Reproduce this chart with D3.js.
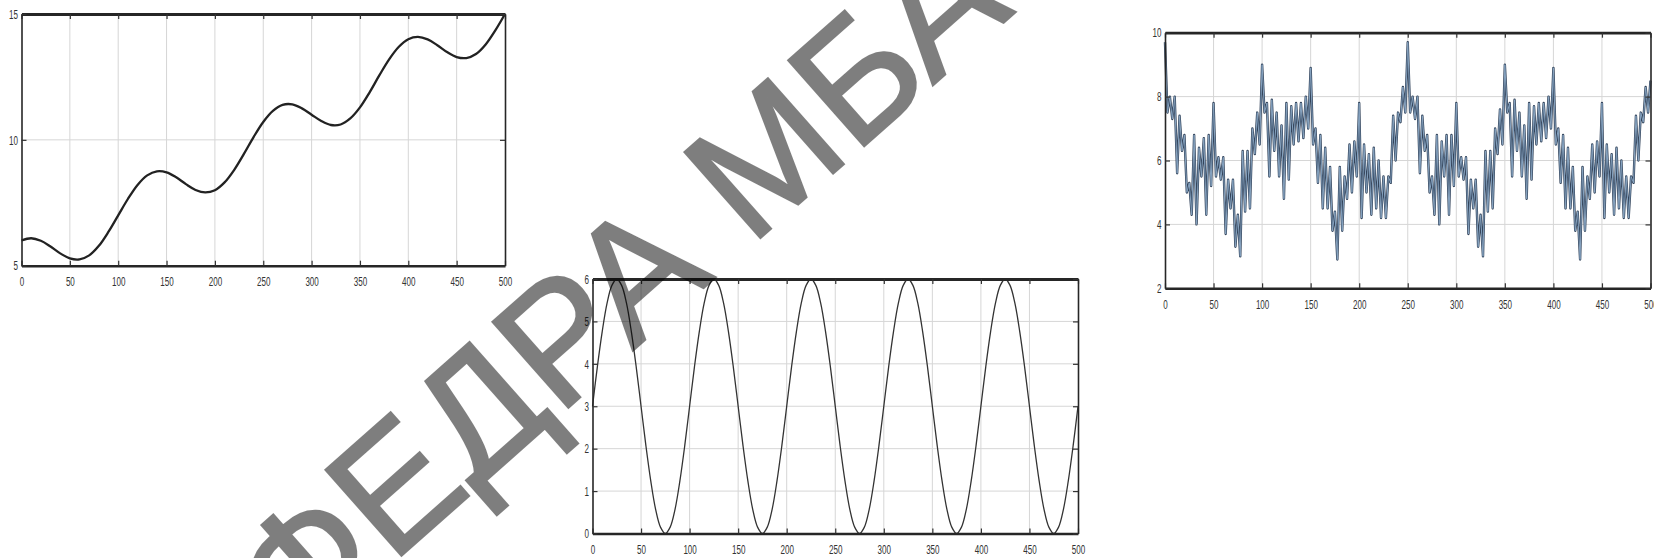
<!DOCTYPE html>
<html>
<head>
<meta charset="utf-8">
<script src="https://cdn.jsdelivr.net/npm/d3@7"></script>
<style>
  html, body { margin: 0; padding: 0; background: #fff; }
  svg { display: block; }
</style>
</head>
<body>
<svg id="chart" width="1654" height="558"></svg>
<script>
// Shared x ticks (sample index 0..500)
const xTickValues = [0, 50, 100, 150, 200, 250, 300, 350, 400, 450, 500];

// Panel A: rising trend with a ripple, sampled every 10 units
const trendStep = 10;
const trendValues = [
  6.00, 6.09, 5.99, 5.76, 5.49, 5.29, 5.25, 5.41, 5.79, 6.35,
  7.00, 7.65, 8.21, 8.59, 8.75, 8.71, 8.51, 8.24, 8.01, 7.91,
  8.00, 8.31, 8.81, 9.44, 10.11, 10.71, 11.15, 11.39, 11.41, 11.25,
  11.00, 10.75, 10.59, 10.61, 10.85, 11.29, 11.89, 12.56, 13.19, 13.69,
  14.00, 14.09, 13.99, 13.76, 13.49, 13.29, 13.25, 13.41, 13.79, 14.35,
  15.00
];
const trendYTicks = [5, 10, 15];

// Panel B: oscillation between 0 and 6, sampled every 5 units
const waveStep = 5;
const waveValues = [
  3.00, 3.93, 4.76, 5.43, 5.85, 6.00, 5.85, 5.43, 4.76, 3.93,
  3.00, 2.07, 1.24, 0.57, 0.15, 0.00, 0.15, 0.57, 1.24, 2.07,
  3.00, 3.93, 4.76, 5.43, 5.85, 6.00, 5.85, 5.43, 4.76, 3.93,
  3.00, 2.07, 1.24, 0.57, 0.15, 0.00, 0.15, 0.57, 1.24, 2.07,
  3.00, 3.93, 4.76, 5.43, 5.85, 6.00, 5.85, 5.43, 4.76, 3.93,
  3.00, 2.07, 1.24, 0.57, 0.15, 0.00, 0.15, 0.57, 1.24, 2.07,
  3.00, 3.93, 4.76, 5.43, 5.85, 6.00, 5.85, 5.43, 4.76, 3.93,
  3.00, 2.07, 1.24, 0.57, 0.15, 0.00, 0.15, 0.57, 1.24, 2.07,
  3.00, 3.93, 4.76, 5.43, 5.85, 6.00, 5.85, 5.43, 4.76, 3.93,
  3.00, 2.07, 1.24, 0.57, 0.15, 0.00, 0.15, 0.57, 1.24, 2.07,
  3.00
];
const waveYTicks = [0, 1, 2, 3, 4, 5, 6];

// Panel C: noisy signal, local peaks and troughs every 2.5 units
const noiseStep = 2.5;
const noiseValues = [
  9.7, 7.5, 8.0, 7.3, 8.0, 5.6, 7.4, 6.3, 6.8, 5.0,
  5.3, 4.3, 6.8, 4.0, 6.4, 5.5, 6.7, 4.3, 6.8, 5.2,
  7.8, 5.5, 6.1, 5.4, 6.1, 3.7, 5.4, 4.5, 5.4, 3.3,
  4.3, 3.0, 6.3, 4.4, 6.3, 4.5, 7.0, 6.2, 7.5, 6.5,
  9.0, 7.5, 7.8, 5.5, 7.9, 6.3, 7.5, 5.5, 7.1, 4.8,
  7.8, 5.4, 7.7, 6.5, 7.8, 6.6, 7.8, 6.7, 8.0, 7.0,
  8.9, 6.5, 7.0, 5.3, 6.8, 4.5, 6.4, 4.5, 5.8, 3.8,
  4.4, 2.9, 5.8, 3.8, 5.5, 4.8, 6.5, 5.0, 6.6, 5.5,
  7.8, 4.2, 6.5, 5.0, 6.2, 4.3, 6.4, 4.5, 6.0, 4.2,
  5.5, 4.2, 5.5, 5.3, 7.4, 6.0, 7.5, 7.2, 8.3, 7.5,
  9.7, 7.5, 8.0, 7.3, 8.0, 5.6, 7.4, 6.3, 6.8, 5.0,
  5.5, 4.3, 6.8, 4.0, 6.6, 5.5, 6.8, 4.3, 6.8, 5.2,
  7.8, 5.5, 6.1, 5.4, 6.1, 3.7, 5.4, 4.5, 5.4, 3.3,
  4.3, 3.0, 6.3, 4.4, 6.3, 4.5, 7.0, 6.2, 7.6, 6.5,
  9.0, 7.5, 7.8, 5.5, 7.9, 6.3, 7.5, 5.5, 7.1, 4.8,
  7.8, 5.4, 7.7, 6.5, 7.8, 6.6, 7.8, 6.7, 8.0, 7.0,
  8.9, 6.5, 7.0, 5.3, 6.8, 4.5, 6.4, 4.5, 5.8, 3.8,
  4.4, 2.9, 5.8, 3.8, 5.5, 4.8, 6.5, 5.0, 6.6, 5.5,
  7.8, 4.2, 6.5, 5.0, 6.2, 4.3, 6.4, 4.5, 6.0, 4.2,
  5.5, 4.2, 5.5, 5.3, 7.4, 6.0, 7.5, 7.2, 8.3, 7.5,
  8.5
];
const noiseYTicks = [2, 4, 6, 8, 10];

const watermarkText = "КАФЕДРА МБА";

const svg = d3.select("#chart");
const FONT = "'Liberation Sans', Arial, sans-serif";
const SQUEEZE = 0.62;   // narrow tick-label glyphs

const panels = [
  { box: [21.5, 14, 505, 265.7], yDomain: [5, 15], yTicks: trendYTicks,
    values: trendValues, step: trendStep, curve: d3.curveCatmullRom,
    strokes: [{ color: "#222", width: 2.3 }] },
  { box: [592.5, 279, 1078, 533.5], yDomain: [0, 6], yTicks: waveYTicks,
    values: waveValues, step: waveStep, curve: d3.curveCatmullRom,
    strokes: [{ color: "#333", width: 1.3 }] },
  { box: [1165, 32.7, 1650.5, 288.3], yDomain: [2, 10], yTicks: noiseYTicks,
    values: noiseValues, step: noiseStep, curve: d3.curveLinear,
    strokes: [{ color: "#34455c", width: 2.4 }, { color: "#86a3c0", width: 1.0 }] }
];

function drawPanel(p) {
  const [l, t, r, b] = p.box;
  const g = svg.append("g");
  const x = d3.scaleLinear().domain([0, 500]).range([l, r]);
  const y = d3.scaleLinear().domain(p.yDomain).range([b, t]);

  // grid
  g.append("g").selectAll("line").data(xTickValues.slice(1, -1)).join("line")
    .attr("x1", d => x(d)).attr("x2", d => x(d)).attr("y1", t).attr("y2", b)
    .attr("stroke", "#d6d6d6").attr("stroke-width", 1);
  g.append("g").selectAll("line").data(p.yTicks.slice(1, -1)).join("line")
    .attr("x1", l).attr("x2", r).attr("y1", d => y(d)).attr("y2", d => y(d))
    .attr("stroke", "#d6d6d6").attr("stroke-width", 1);

  // data line
  const pts = p.values.map((v, i) => [i * p.step, v]);
  const line = d3.line().x(d => x(d[0])).y(d => y(d[1])).curve(p.curve);
  p.strokes.forEach(s => {
    g.append("path").datum(pts).attr("d", line)
      .attr("fill", "none").attr("stroke", s.color).attr("stroke-width", s.width)
      .attr("stroke-linejoin", "round");
  });

  // axes: inward ticks on all four sides, labels on bottom and left
  const styleAxis = (sel, domainWidth) => {
    sel.select(".domain").attr("stroke", "#262626").attr("stroke-width", domainWidth);
    sel.selectAll(".tick line").attr("stroke", "#333").attr("stroke-width", 1.2);
    sel.selectAll(".tick text").attr("fill", "#333")
      .attr("font-family", FONT).attr("font-size", 13)
      .attr("transform", `scale(${SQUEEZE},1)`);
  };
  g.append("g").attr("transform", `translate(0,${b})`)
    .call(d3.axisBottom(x).tickValues(xTickValues).tickSize(-5).tickSizeOuter(0).tickPadding(11.5).tickFormat(d3.format("d")))
    .call(s => styleAxis(s, 2.6));
  g.append("g").attr("transform", `translate(0,${t})`)
    .call(d3.axisTop(x).tickValues(xTickValues).tickSize(-5).tickSizeOuter(0).tickFormat(""))
    .call(s => styleAxis(s, 2.8));
  g.append("g").attr("transform", `translate(${l},0)`)
    .call(d3.axisLeft(y).tickValues(p.yTicks).tickSize(-5).tickSizeOuter(0).tickPadding(5.6).tickFormat(d3.format("d")))
    .call(s => styleAxis(s, 1.6));
  g.append("g").attr("transform", `translate(${r},0)`)
    .call(d3.axisRight(y).tickValues(p.yTicks).tickSize(-5).tickSizeOuter(0).tickFormat(""))
    .call(s => styleAxis(s, 1.6));
}

panels.forEach(drawPanel);

// diagonal watermark across the sheet
const wmGroup = svg.append("g").attr("opacity", 0.5);
const wm = wmGroup.append("text")
  .attr("font-family", FONT).attr("font-size", 166)
  .attr("fill", "#000").attr("stroke", "#000").attr("stroke-width", 2.5)
  .attr("stroke-linejoin", "miter")
  .text(watermarkText);
const ext = wm.node().getExtentOfChar(3); // the "Е"
const cx = ext.x + ext.width / 2, cy = -0.36 * 166;
wm.attr("transform", `translate(393,483) rotate(-41.5) translate(${-cx},${-cy})`);
</script>
</body>
</html>
